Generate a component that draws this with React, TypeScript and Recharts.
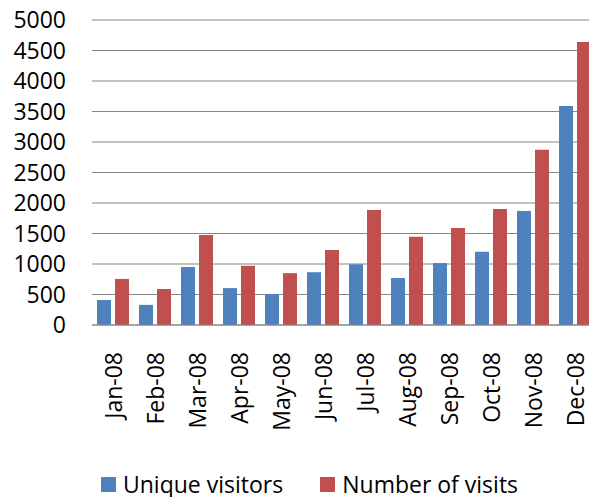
import { BarChart, Bar, XAxis, YAxis, CartesianGrid, Legend } from "recharts";

const months = [
  "Jan-08", "Feb-08", "Mar-08", "Apr-08", "May-08", "Jun-08",
  "Jul-08", "Aug-08", "Sep-08", "Oct-08", "Nov-08", "Dec-08",
];
const uniqueVisitors = [410, 330, 950, 605, 505, 865, 995, 770, 1015, 1200, 1870, 3590];
const numberOfVisits = [755, 590, 1475, 970, 850, 1230, 1885, 1445, 1590, 1900, 2875, 4640];
const yTicks = [0, 500, 1000, 1500, 2000, 2500, 3000, 3500, 4000, 4500, 5000];

const BLUE = "#4F81BD";
const RED = "#C0504D";
const FONT = "'Open Sans', sans-serif";

const data = months.map((m, i) => ({
  month: m,
  unique: uniqueVisitors[i],
  visits: numberOfVisits[i],
}));

const MonthTick = ({ x, y, payload }: any) => {
  const ty = y + 19;
  return (
    <text
      x={x}
      y={ty}
      transform={`rotate(-90, ${x}, ${ty})`}
      textAnchor="end"
      dominantBaseline="central"
      fill="#000"
      fontSize={23}
      fontFamily={FONT}
    >
      {payload.value}
    </text>
  );
};

const legendItems = [
  { label: "Unique visitors", color: BLUE },
  { label: "Number of visits", color: RED },
];

const LegendBox = () => (
  <div style={{ height: 30, position: "relative", fontFamily: FONT, fontSize: 23 }}>
    <div
      style={{
        position: "absolute",
        top: 10,
        left: 101,
        height: 15,
        display: "flex",
        alignItems: "center",
        whiteSpace: "nowrap",
      }}
    >
      {legendItems.map((it, i) => (
        <div key={it.label} style={{ display: "flex", alignItems: "center", marginRight: i === 0 ? 37 : 0 }}>
          <span style={{ width: 15, height: 15, background: it.color, marginRight: 7, display: "inline-block" }} />
          <span style={{ color: "#000", lineHeight: "15px" }}>{it.label}</span>
        </div>
      ))}
    </div>
  </div>
);

const App = () => {
  return (
    <div style={{ position: "absolute", left: 0, top: 0, width: 589, height: 497, overflow: "hidden", background: "#fff" }}>
      <BarChart
        width={596}
        height={497}
        data={data}
        margin={{ top: 20, right: 0, left: 0, bottom: 0 }}
        barCategoryGap={5}
        barGap={4}
      >
        <CartesianGrid vertical={false} stroke="#868686" strokeWidth={1} />
        <XAxis
          dataKey="month"
          height={142}
          interval={0}
          axisLine={{ stroke: "#868686" }}
          tickLine={false}
          tick={<MonthTick />}
        />
        <YAxis
          width={92}
          domain={[0, 5000]}
          ticks={yTicks}
          interval={0}
          axisLine={false}
          tickLine={false}
          tickMargin={20}
          tick={{ fill: "#000", fontSize: 23, fontFamily: FONT }}
        />
        <Legend verticalAlign="bottom" content={<LegendBox />} />
        <Bar dataKey="unique" name="Unique visitors" fill={BLUE} isAnimationActive={false} />
        <Bar dataKey="visits" name="Number of visits" fill={RED} isAnimationActive={false} />
      </BarChart>
    </div>
  );
};

export default App;
